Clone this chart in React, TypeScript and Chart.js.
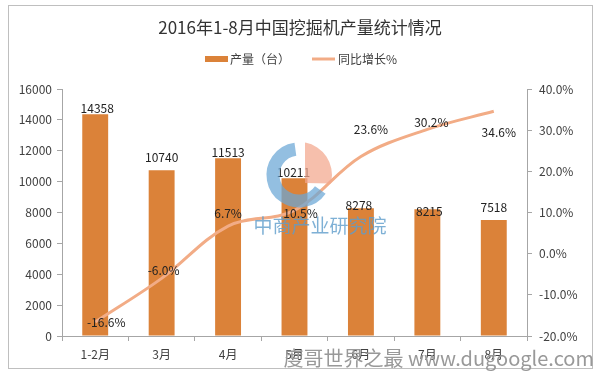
import React, { useEffect, useRef } from "react";
import { Chart, registerables } from "chart.js";

Chart.register(...registerables);

// ---- data ----
const titleText = "2016年1-8月中国挖掘机产量统计情况";
const categories = ["1-2月", "3月", "4月", "5月", "6月", "7月", "8月"];
const production = [14358, 10740, 11513, 10211, 8278, 8215, 7518];
const growth = [-16.6, -6.0, 6.7, 10.5, 23.6, 30.2, 34.6];
const productionLabel = "产量（台）";
const growthLabel = "同比增长%";
const watermarkCenter = "中商产业研究院";
const watermarkBottom = "度哥世界之最 www.dugoogle.com";

// ---- styles ----
const BAR_COLOR = "#DB8239";
const LINE_COLOR = "#F2AC86";
const AXIS_COLOR = "#A6A6A6";
const TEXT_COLOR = "#404040";
const FONT = "'Noto Sans CJK SC', 'Noto Sans', sans-serif";
// label offsets (px) relative to the mark
const barLabelOffsets = [[2, -6], [0, -13], [0, -6], [-1, -6], [-2, -3], [2, 2], [0, -13]];
const growthLabelOffsets = [[11, 0], [2, -8], [0, -13], [6, 3], [10, -27], [4, -7], [5, 21]];

const decorPlugin = {
  id: "decor",
  beforeDraw(chart: any) {
    const ctx = chart.ctx;
    ctx.save();
    ctx.fillStyle = "#ffffff";
    ctx.fillRect(0, 0, chart.width, chart.height);
    ctx.strokeStyle = "#BFBFBF";
    ctx.lineWidth = 1;
    ctx.strokeRect(8.5, 5.5, 584, 363);
    // title
    ctx.fillStyle = "#333333";
    ctx.font = `17px ${FONT}`;
    ctx.textAlign = "center";
    ctx.textBaseline = "middle";
    ctx.fillText(titleText, 300, 28);
    // legend
    ctx.font = `12px ${FONT}`;
    ctx.textAlign = "left";
    ctx.fillStyle = BAR_COLOR;
    ctx.fillRect(205, 56, 23, 6);
    ctx.fillStyle = TEXT_COLOR;
    ctx.fillText(productionLabel, 230, 59);
    ctx.strokeStyle = LINE_COLOR;
    ctx.lineWidth = 3;
    ctx.beginPath();
    ctx.moveTo(312, 59);
    ctx.lineTo(335, 59);
    ctx.stroke();
    ctx.fillText(growthLabel, 338, 59);
    ctx.restore();
  },
  afterDatasetsDraw(chart: any) {
    const ctx = chart.ctx;
    ctx.save();
    ctx.font = `12px ${FONT}`;
    ctx.fillStyle = "#222222";
    ctx.textAlign = "center";
    ctx.textBaseline = "middle";
    const barMeta = chart.getDatasetMeta(0);
    barMeta.data.forEach((el: any, i: number) => {
      const [dx, dy] = barLabelOffsets[i];
      ctx.fillText(String(production[i]), el.x + dx, el.y + dy);
    });
    const lineMeta = chart.getDatasetMeta(1);
    lineMeta.data.forEach((el: any, i: number) => {
      const [dx, dy] = growthLabelOffsets[i];
      ctx.fillText(growth[i].toFixed(1) + "%", el.x + dx, el.y + dy);
    });
    ctx.restore();
  },
  afterDraw(chart: any) {
    const ctx = chart.ctx;
    ctx.save();
    // logo
    const cx = 299, cy = 175;
    ctx.globalAlpha = 0.72;
    ctx.strokeStyle = "#6AA6D6";
    ctx.lineWidth = 13;
    ctx.beginPath();
    ctx.arc(cx, cy, 26, (35 * Math.PI) / 180, (262 * Math.PI) / 180);
    ctx.stroke();
    ctx.fillStyle = "#F3A68C";
    ctx.beginPath();
    ctx.moveTo(cx + 6, cy + 8);
    ctx.lineTo(cx + 6, cy - 32);
    ctx.arc(cx, cy, 33, (-79 * Math.PI) / 180, (15 * Math.PI) / 180);
    ctx.closePath();
    ctx.fill();
    ctx.globalAlpha = 0.8;
    ctx.fillStyle = "#5E9CCB";
    ctx.font = `19px ${FONT}`;
    ctx.textAlign = "center";
    ctx.textBaseline = "middle";
    ctx.fillText(watermarkCenter, 320, 226);
    // bottom watermark
    ctx.globalAlpha = 1;
    ctx.fillStyle = "#999999";
    ctx.font = `20px ${FONT}`;
    ctx.textAlign = "right";
    ctx.fillText(watermarkBottom, 594, 358);
    ctx.restore();
  },
};

export default function App() {
  const canvasRef = useRef<HTMLCanvasElement | null>(null);

  useEffect(() => {
    if (!canvasRef.current) return;
    const tickFont = { family: FONT, size: 12 };
    const chart = new Chart(canvasRef.current, {
      type: "bar",
      data: {
        labels: categories,
        datasets: [
          {
            type: "bar",
            label: productionLabel,
            data: production,
            backgroundColor: BAR_COLOR,
            categoryPercentage: 1,
            barPercentage: 0.39,
            yAxisID: "y",
            order: 1,
          },
          {
            type: "line",
            label: growthLabel,
            data: growth,
            borderColor: LINE_COLOR,
            borderWidth: 3,
            pointRadius: 0,
            tension: 0.35,
            fill: false,
            yAxisID: "y1",
            order: 0,
          } as any,
        ],
      },
      options: {
        responsive: false,
        animation: false,
        layout: { padding: { top: 89, left: 0, right: 0, bottom: 0 } },
        plugins: {
          legend: { display: false },
          title: { display: false },
          tooltip: { enabled: false },
        },
        scales: {
          x: {
            grid: { drawOnChartArea: false, drawTicks: true, tickLength: 5, color: AXIS_COLOR, offset: true },
            border: { color: AXIS_COLOR },
            ticks: { font: tickFont, color: TEXT_COLOR, padding: 6, maxRotation: 0 },
            afterFit: (s: any) => { s.height = 36; },
          },
          y: {
            position: "left",
            min: 0,
            max: 16000,
            grid: { drawOnChartArea: false, tickLength: 5, color: AXIS_COLOR },
            border: { color: AXIS_COLOR },
            ticks: {
              stepSize: 2000,
              font: tickFont,
              color: TEXT_COLOR,
              padding: 5,
              callback: (v: any) => String(v),
            },
            afterFit: (s: any) => { s.width = 62; },
          },
          y1: {
            position: "right",
            min: -20,
            max: 40,
            grid: { drawOnChartArea: false, tickLength: 5, color: AXIS_COLOR },
            border: { color: AXIS_COLOR },
            ticks: {
              stepSize: 10,
              font: tickFont,
              color: TEXT_COLOR,
              padding: 7,
              callback: (v: any) => Number(v).toFixed(1) + "%",
            },
            afterFit: (s: any) => { s.width = 73; },
          },
        },
      },
      plugins: [decorPlugin],
    });
    return () => chart.destroy();
  }, []);

  return (
    <div style={{ position: "absolute", left: 0, top: 0, width: 600, height: 372, background: "#fff" }}>
      <canvas ref={canvasRef} width={600} height={372} style={{ display: "block", width: 600, height: 372 }} />
    </div>
  );
}
